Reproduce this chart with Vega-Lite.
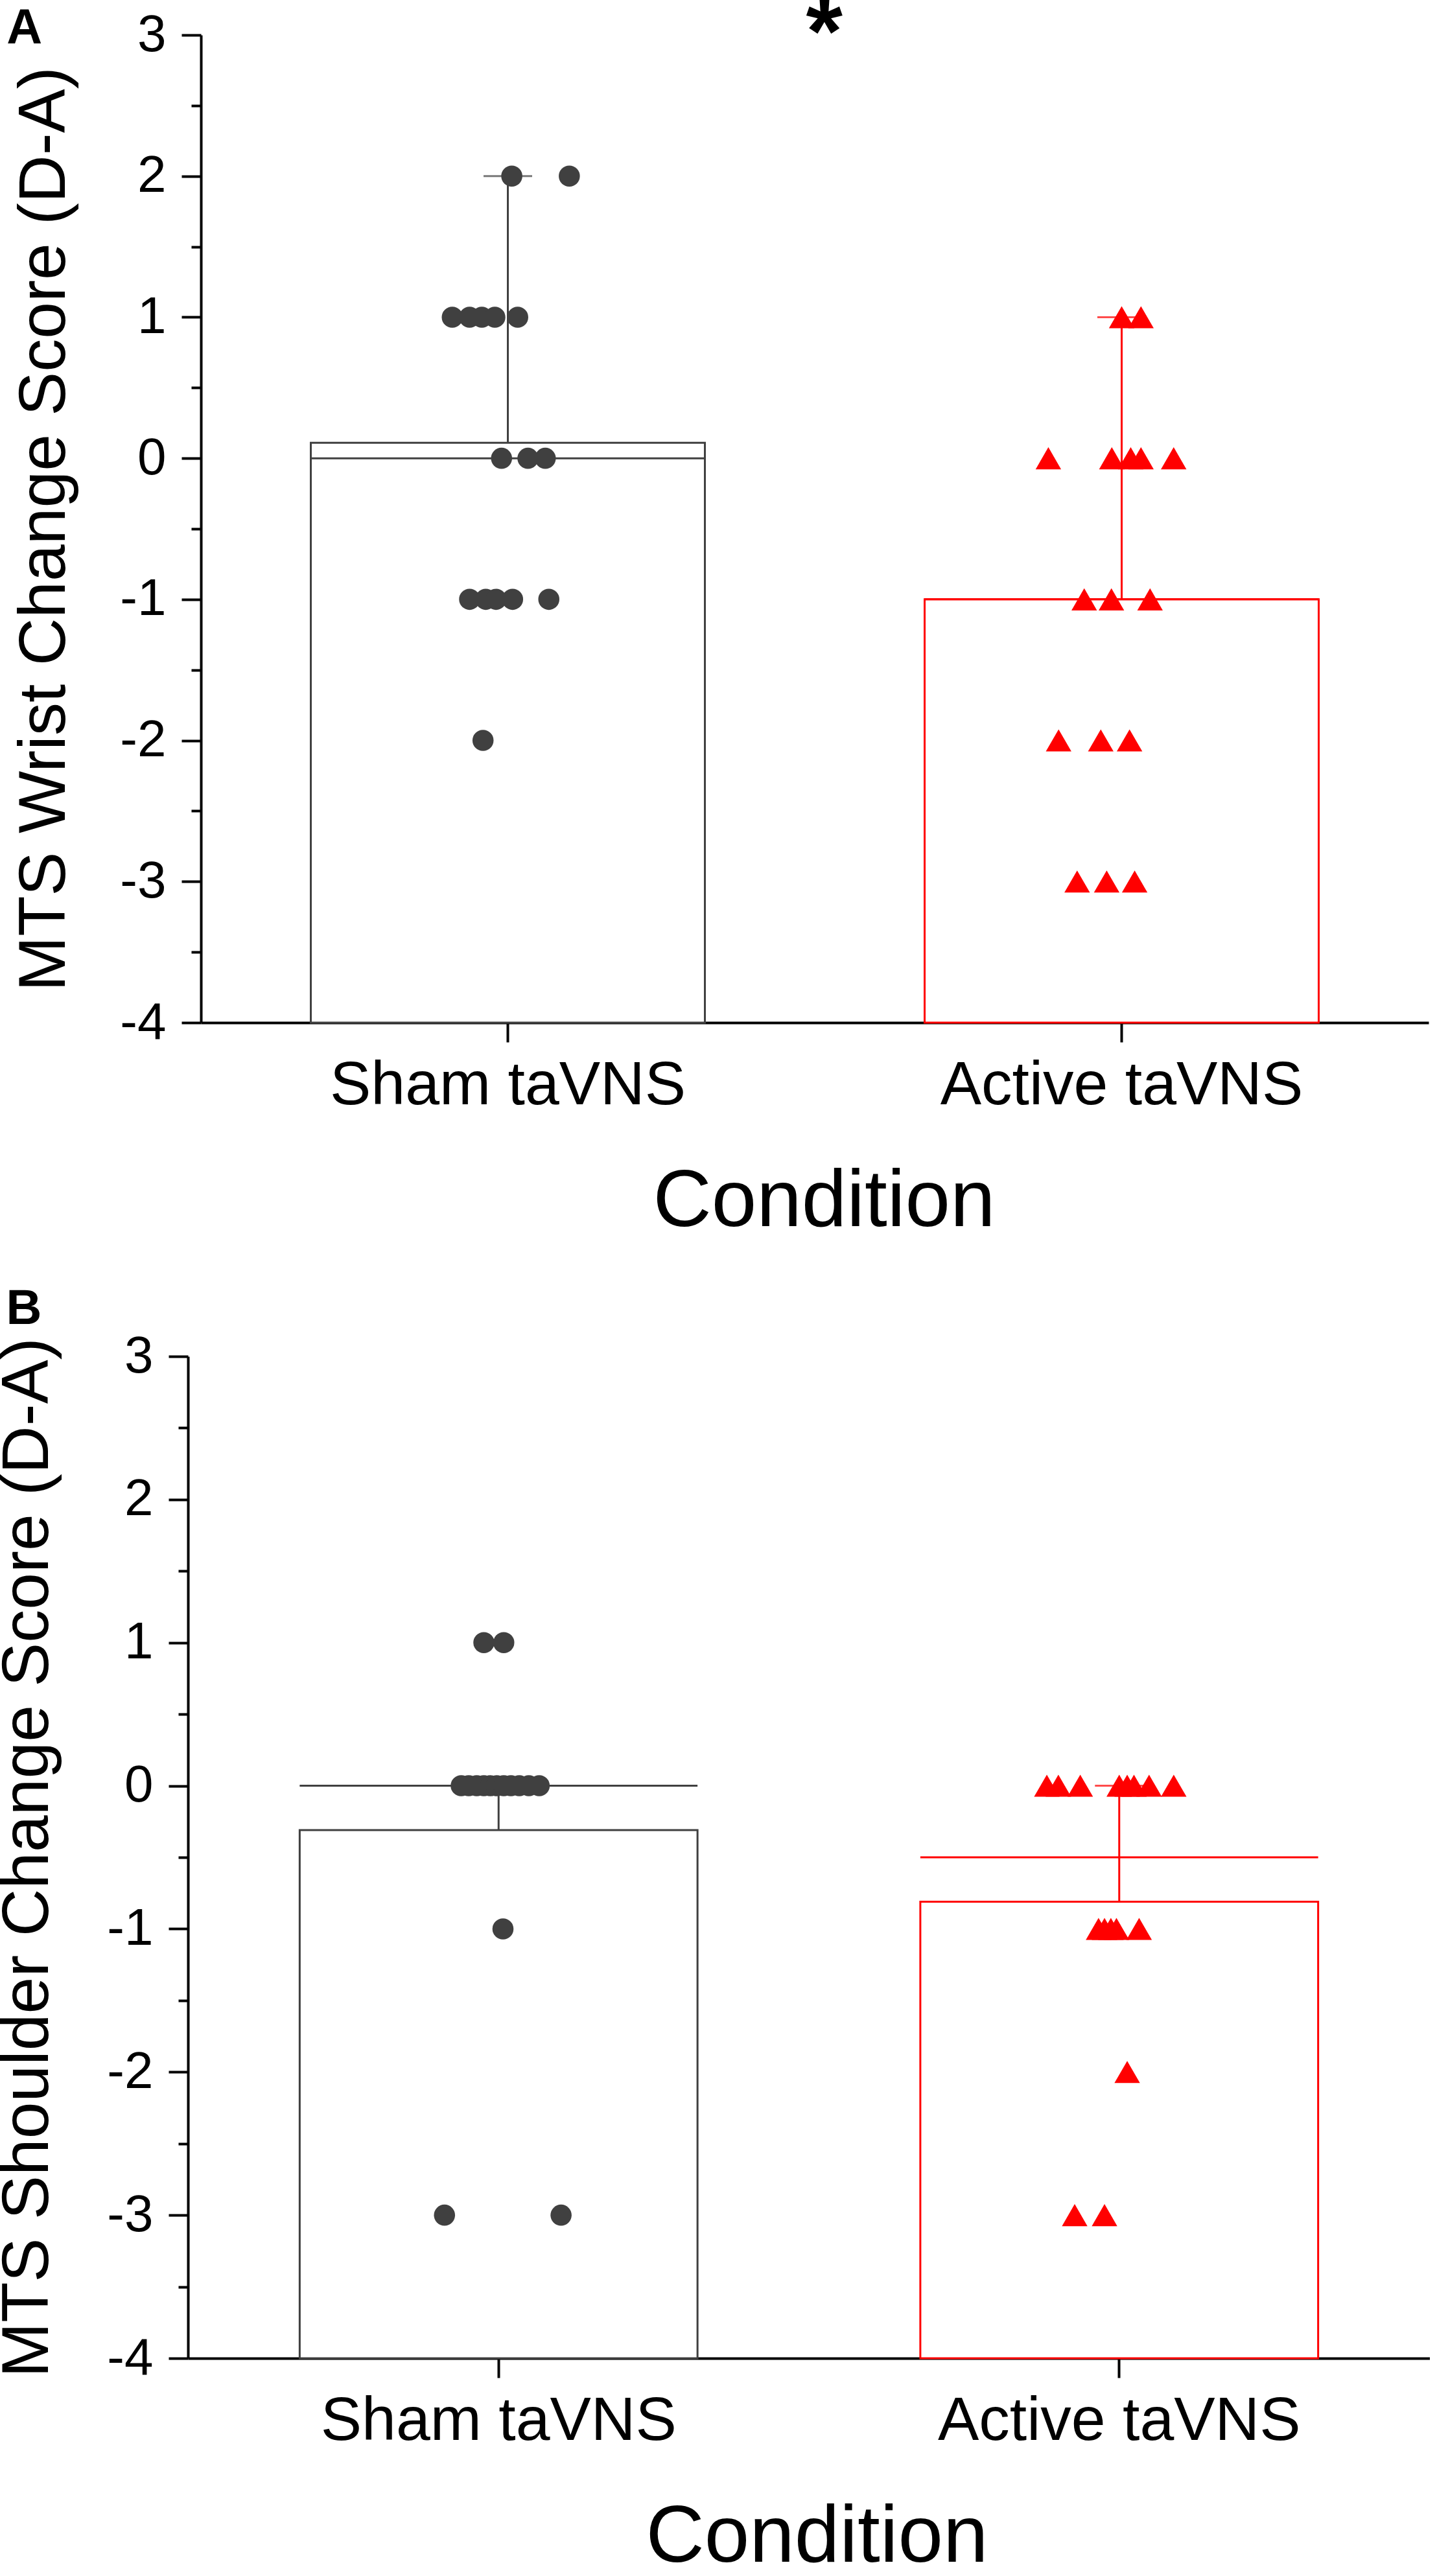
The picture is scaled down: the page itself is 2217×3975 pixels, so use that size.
{
  "$schema": "https://vega.github.io/schema/vega-lite/v6.json",
  "background": "white",
  "padding": {"left": -9, "top": -19, "right": 0, "bottom": 0},
  "spacing": 66,
  "config": {
    "font": "Liberation Sans, Arial, sans-serif",
    "view": {"stroke": null},
    "axis": {
      "grid": false,
      "domainColor": "black",
      "domainWidth": 4,
      "tickColor": "black",
      "tickWidth": 4,
      "labelColor": "black",
      "titleColor": "black",
      "labelFont": "Liberation Sans, Arial, sans-serif",
      "titleFont": "Liberation Sans, Arial, sans-serif",
      "titleFontWeight": "normal",
      "labelLimit": 0
    },
    "axisX": {
      "labelFontSize": 95,
      "labelAngle": 0,
      "tickSize": 30,
      "labelPadding": 20,
      "titleFontSize": 125,
      "titlePadding": 70
    },
    "axisY": {
      "labelFontSize": 80,
      "labelPadding": 24,
      "titleFontSize": 102
    }
  },
  "datasets": {
    "wrist": [
      {"Condition": "Sham taVNS", "Score": 2, "Jitter": 0.010},
      {"Condition": "Sham taVNS", "Score": 2, "Jitter": 0.156},
      {"Condition": "Sham taVNS", "Score": 1, "Jitter": -0.141},
      {"Condition": "Sham taVNS", "Score": 1, "Jitter": -0.097},
      {"Condition": "Sham taVNS", "Score": 1, "Jitter": -0.066},
      {"Condition": "Sham taVNS", "Score": 1, "Jitter": -0.033},
      {"Condition": "Sham taVNS", "Score": 1, "Jitter": 0.025},
      {"Condition": "Sham taVNS", "Score": 0, "Jitter": -0.016},
      {"Condition": "Sham taVNS", "Score": 0, "Jitter": 0.051},
      {"Condition": "Sham taVNS", "Score": 0, "Jitter": 0.095},
      {"Condition": "Sham taVNS", "Score": -1, "Jitter": -0.097},
      {"Condition": "Sham taVNS", "Score": -1, "Jitter": -0.056},
      {"Condition": "Sham taVNS", "Score": -1, "Jitter": -0.030},
      {"Condition": "Sham taVNS", "Score": -1, "Jitter": 0.012},
      {"Condition": "Sham taVNS", "Score": -1, "Jitter": 0.104},
      {"Condition": "Sham taVNS", "Score": -2, "Jitter": -0.063},
      {"Condition": "Active taVNS", "Score": 1, "Jitter": 0.000},
      {"Condition": "Active taVNS", "Score": 1, "Jitter": 0.049},
      {"Condition": "Active taVNS", "Score": 0, "Jitter": -0.186},
      {"Condition": "Active taVNS", "Score": 0, "Jitter": -0.025},
      {"Condition": "Active taVNS", "Score": 0, "Jitter": 0.023},
      {"Condition": "Active taVNS", "Score": 0, "Jitter": 0.049},
      {"Condition": "Active taVNS", "Score": 0, "Jitter": 0.132},
      {"Condition": "Active taVNS", "Score": -1, "Jitter": -0.095},
      {"Condition": "Active taVNS", "Score": -1, "Jitter": -0.026},
      {"Condition": "Active taVNS", "Score": -1, "Jitter": 0.072},
      {"Condition": "Active taVNS", "Score": -2, "Jitter": -0.160},
      {"Condition": "Active taVNS", "Score": -2, "Jitter": -0.053},
      {"Condition": "Active taVNS", "Score": -2, "Jitter": 0.020},
      {"Condition": "Active taVNS", "Score": -3, "Jitter": -0.113},
      {"Condition": "Active taVNS", "Score": -3, "Jitter": -0.038},
      {"Condition": "Active taVNS", "Score": -3, "Jitter": 0.033}
    ],
    "wrist_summary": [
      {"Condition": "Sham taVNS", "Mean": 0.11, "Median": 0, "Upper": 2},
      {"Condition": "Active taVNS", "Mean": -1, "Median": -1, "Upper": 1}
    ],
    "shoulder": [
      {"Condition": "Sham taVNS", "Score": 1, "Jitter": -0.037},
      {"Condition": "Sham taVNS", "Score": 1, "Jitter": 0.013},
      {"Condition": "Sham taVNS", "Score": 0, "Jitter": -0.094},
      {"Condition": "Sham taVNS", "Score": 0, "Jitter": -0.075},
      {"Condition": "Sham taVNS", "Score": 0, "Jitter": -0.055},
      {"Condition": "Sham taVNS", "Score": 0, "Jitter": -0.037},
      {"Condition": "Sham taVNS", "Score": 0, "Jitter": -0.021},
      {"Condition": "Sham taVNS", "Score": 0, "Jitter": -0.005},
      {"Condition": "Sham taVNS", "Score": 0, "Jitter": 0.013},
      {"Condition": "Sham taVNS", "Score": 0, "Jitter": 0.031},
      {"Condition": "Sham taVNS", "Score": 0, "Jitter": 0.052},
      {"Condition": "Sham taVNS", "Score": 0, "Jitter": 0.076},
      {"Condition": "Sham taVNS", "Score": 0, "Jitter": 0.102},
      {"Condition": "Sham taVNS", "Score": -1, "Jitter": 0.011},
      {"Condition": "Sham taVNS", "Score": -3, "Jitter": -0.136},
      {"Condition": "Sham taVNS", "Score": -3, "Jitter": 0.157},
      {"Condition": "Active taVNS", "Score": 0, "Jitter": -0.182},
      {"Condition": "Active taVNS", "Score": 0, "Jitter": -0.153},
      {"Condition": "Active taVNS", "Score": 0, "Jitter": -0.098},
      {"Condition": "Active taVNS", "Score": 0, "Jitter": 0.000},
      {"Condition": "Active taVNS", "Score": 0, "Jitter": 0.020},
      {"Condition": "Active taVNS", "Score": 0, "Jitter": 0.037},
      {"Condition": "Active taVNS", "Score": 0, "Jitter": 0.075},
      {"Condition": "Active taVNS", "Score": 0, "Jitter": 0.137},
      {"Condition": "Active taVNS", "Score": -1, "Jitter": -0.052},
      {"Condition": "Active taVNS", "Score": -1, "Jitter": -0.037},
      {"Condition": "Active taVNS", "Score": -1, "Jitter": -0.021},
      {"Condition": "Active taVNS", "Score": -1, "Jitter": -0.007},
      {"Condition": "Active taVNS", "Score": -1, "Jitter": 0.050},
      {"Condition": "Active taVNS", "Score": -2, "Jitter": 0.020},
      {"Condition": "Active taVNS", "Score": -3, "Jitter": -0.112},
      {"Condition": "Active taVNS", "Score": -3, "Jitter": -0.037}
    ],
    "shoulder_summary": [
      {"Condition": "Sham taVNS", "Mean": -0.31, "Median": 0, "Upper": 0},
      {"Condition": "Active taVNS", "Mean": -0.81, "Median": -0.5, "Upper": 0}
    ]
  },
  "vconcat": [
    {
      "width": 1914,
      "height": 1524,
      "resolve": {"scale": {"xOffset": "independent"}},
      "encoding": {
        "x": {
          "field": "Condition",
          "type": "nominal",
          "sort": ["Sham taVNS", "Active taVNS"],
          "scale": {"domain": ["Sham taVNS", "Active taVNS"], "range": [20, 1914], "paddingInner": 0.358, "paddingOuter": 0.179},
          "axis": {"title": "Condition", "titleX": 981}
        }
      },
      "layer": [
        {
          "data": {"name": "wrist_summary"},
          "mark": {"type": "bar", "fill": "white", "strokeWidth": 3},
          "encoding": {
            "y": {
              "field": "Mean",
              "type": "quantitative",
              "scale": {"domain": [-4, 3], "nice": false, "zero": false},
              "axis": {
                "title": "MTS Wrist Change Score (D-A)",
                "titlePadding": 64,
                "offset": -20,
                "values": [-4, -3.5, -3, -2.5, -2, -1.5, -1, -0.5, 0, 0.5, 1, 1.5, 2, 2.5, 3],
                "labelExpr": "datum.value % 1 === 0 ? '' + datum.value : ''",
                "tickSize": {"condition": {"test": "datum.value % 1 === 0", "value": 30}, "value": 15}
              }
            },
            "y2": {"datum": -4},
            "stroke": {"field": "Condition", "type": "nominal", "scale": {"domain": ["Sham taVNS", "Active taVNS"], "range": ["#404040", "#ff0000"]}, "legend": null}
          }
        },
        {
          "data": {"name": "wrist_summary"},
          "mark": {"type": "bar", "fill": "transparent", "strokeWidth": 3},
          "encoding": {
            "y": {"field": "Median", "type": "quantitative"},
            "y2": {"field": "Median"},
            "stroke": {"field": "Condition", "type": "nominal", "scale": {"domain": ["Sham taVNS", "Active taVNS"], "range": ["#404040", "#ff0000"]}, "legend": null}
          }
        },
        {
          "data": {"name": "wrist_summary"},
          "mark": {"type": "rule", "strokeWidth": 3},
          "encoding": {
            "y": {"field": "Mean", "type": "quantitative"},
            "y2": {"field": "Upper"},
            "color": {"field": "Condition", "type": "nominal", "scale": {"domain": ["Sham taVNS", "Active taVNS"], "range": ["#404040", "#ff0000"]}, "legend": null}
          }
        },
        {
          "data": {"name": "wrist_summary"},
          "mark": {"type": "tick", "size": 75, "thickness": 3},
          "encoding": {
            "y": {"field": "Upper", "type": "quantitative"},
            "color": {"field": "Condition", "type": "nominal", "scale": {"domain": ["Sham taVNS", "Active taVNS"], "range": ["#404040", "#ff0000"]}, "legend": null}
          }
        },
        {
          "data": {"name": "wrist"},
          "mark": {"type": "point", "filled": true, "opacity": 1},
          "encoding": {
            "xOffset": {"field": "Jitter", "type": "quantitative", "scale": {"domain": [-0.5, 0.5], "zero": false, "nice": false}},
            "y": {"field": "Score", "type": "quantitative"},
            "color": {"field": "Condition", "type": "nominal", "scale": {"domain": ["Sham taVNS", "Active taVNS"], "range": ["#404040", "#ff0000"]}, "legend": null},
            "shape": {"field": "Condition", "type": "nominal", "scale": {"domain": ["Sham taVNS", "Active taVNS"], "range": ["circle", "triangle-up"]}, "legend": null},
            "size": {"field": "Condition", "type": "nominal", "scale": {"domain": ["Sham taVNS", "Active taVNS"], "range": [1060, 1550]}, "legend": null}
          }
        },
        {
          "data": {"values": [{"Condition": "Sham taVNS", "Label": "*"}]},
          "mark": {"type": "text", "fontSize": 145, "fontWeight": "bold", "baseline": "alphabetic", "align": "center", "color": "black"},
          "encoding": {
            "x": {"field": "Condition", "type": "nominal", "bandPosition": 1.303},
            "y": {"datum": 2.8},
            "text": {"field": "Label"}
          }
        },
        {
          "data": {"values": [{"Condition": "Sham taVNS", "Panel": "A"}]},
          "mark": {"type": "text", "fontSize": 76, "fontWeight": "bold", "baseline": "alphabetic", "align": "left", "color": "black"},
          "encoding": {
            "x": {"field": "Condition", "type": "nominal", "bandPosition": -0.772},
            "y": {"datum": 2.94},
            "text": {"field": "Panel"}
          }
        }
      ]
    },
    {
      "width": 1916,
      "height": 1546,
      "resolve": {"scale": {"xOffset": "independent"}},
      "encoding": {
        "x": {
          "field": "Condition",
          "type": "nominal",
          "sort": ["Sham taVNS", "Active taVNS"],
          "scale": {"domain": ["Sham taVNS", "Active taVNS"], "paddingInner": 0.359, "paddingOuter": 0.18},
          "axis": {"title": "Condition", "titleX": 970}
        }
      },
      "layer": [
        {
          "data": {"name": "shoulder_summary"},
          "mark": {"type": "bar", "fill": "white", "strokeWidth": 3},
          "encoding": {
            "y": {
              "field": "Mean",
              "type": "quantitative",
              "scale": {"domain": [-4, 3], "nice": false, "zero": false},
              "axis": {
                "title": "MTS Shoulder Change Score (D-A)",
                "titlePadding": 70,
                "values": [-4, -3.5, -3, -2.5, -2, -1.5, -1, -0.5, 0, 0.5, 1, 1.5, 2, 2.5, 3],
                "labelExpr": "datum.value % 1 === 0 ? '' + datum.value : ''",
                "tickSize": {"condition": {"test": "datum.value % 1 === 0", "value": 30}, "value": 15}
              }
            },
            "y2": {"datum": -4},
            "stroke": {"field": "Condition", "type": "nominal", "scale": {"domain": ["Sham taVNS", "Active taVNS"], "range": ["#404040", "#ff0000"]}, "legend": null}
          }
        },
        {
          "data": {"name": "shoulder_summary"},
          "mark": {"type": "bar", "fill": "transparent", "strokeWidth": 3},
          "encoding": {
            "y": {"field": "Median", "type": "quantitative"},
            "y2": {"field": "Median"},
            "stroke": {"field": "Condition", "type": "nominal", "scale": {"domain": ["Sham taVNS", "Active taVNS"], "range": ["#404040", "#ff0000"]}, "legend": null}
          }
        },
        {
          "data": {"name": "shoulder_summary"},
          "mark": {"type": "rule", "strokeWidth": 3},
          "encoding": {
            "y": {"field": "Mean", "type": "quantitative"},
            "y2": {"field": "Upper"},
            "color": {"field": "Condition", "type": "nominal", "scale": {"domain": ["Sham taVNS", "Active taVNS"], "range": ["#404040", "#ff0000"]}, "legend": null}
          }
        },
        {
          "data": {"name": "shoulder_summary"},
          "mark": {"type": "tick", "size": 75, "thickness": 3},
          "encoding": {
            "y": {"field": "Upper", "type": "quantitative"},
            "color": {"field": "Condition", "type": "nominal", "scale": {"domain": ["Sham taVNS", "Active taVNS"], "range": ["#404040", "#ff0000"]}, "legend": null}
          }
        },
        {
          "data": {"name": "shoulder"},
          "mark": {"type": "point", "filled": true, "opacity": 1},
          "encoding": {
            "xOffset": {"field": "Jitter", "type": "quantitative", "scale": {"domain": [-0.5, 0.5], "zero": false, "nice": false}},
            "y": {"field": "Score", "type": "quantitative"},
            "color": {"field": "Condition", "type": "nominal", "scale": {"domain": ["Sham taVNS", "Active taVNS"], "range": ["#404040", "#ff0000"]}, "legend": null},
            "shape": {"field": "Condition", "type": "nominal", "scale": {"domain": ["Sham taVNS", "Active taVNS"], "range": ["circle", "triangle-up"]}, "legend": null},
            "size": {"field": "Condition", "type": "nominal", "scale": {"domain": ["Sham taVNS", "Active taVNS"], "range": [1060, 1550]}, "legend": null}
          }
        },
        {
          "data": {"values": [{"Condition": "Sham taVNS", "Panel": "B"}]},
          "mark": {"type": "text", "fontSize": 76, "fontWeight": "bold", "baseline": "alphabetic", "align": "left", "color": "black"},
          "encoding": {
            "x": {"field": "Condition", "type": "nominal", "bandPosition": -0.738},
            "y": {"datum": 3.226},
            "text": {"field": "Panel"}
          }
        }
      ]
    }
  ]
}
